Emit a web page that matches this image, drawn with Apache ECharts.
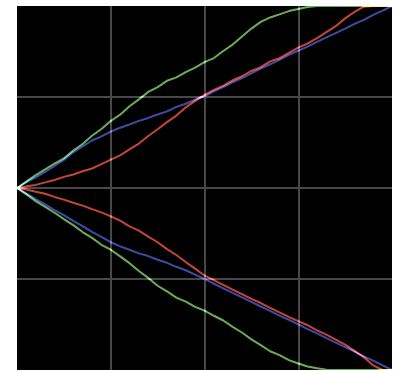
<!DOCTYPE html>
<html>
<head>
<meta charset="utf-8">
<script src="https://cdn.jsdelivr.net/npm/echarts@6/dist/echarts.min.js"></script>
<style>
  html, body { margin: 0; padding: 0; background: #ffffff; }
  #chart { width: 398px; height: 371px; }
</style>
</head>
<body>
<div id="chart"></div>
<script>
// Horizontal positions shared by every curve
const xs = [0, 2.5, 5, 7.5, 10, 12.5, 15, 17.5, 20, 22.5, 25, 27.5, 30, 32.5, 35, 37.5, 40,
  42.5, 45, 47.5, 50, 52.5, 55, 57.5, 60, 62.5, 65, 67.5, 70, 72.5, 75, 77.5, 80, 82.5, 85,
  87.5, 90, 92.5, 95, 97.5, 100];

// Upper branch of each curve
const greenUpper = [0, 3.6, 7.1, 10.2, 13.4, 16.3, 20.6, 24.2, 28.7, 32.4, 36.8, 40.3, 44.9,
  48.7, 52.8, 55.4, 58.9, 60.8, 63.7, 66.1, 69.2, 71.4, 75.3, 78.8, 83.2, 87.6, 91.3, 93.7,
  95.4, 97.2, 98.4, 99.5, 100, 100, 100, 100, 100, 100, 100, 100, 100];
const blueUpper = [0, 3.1, 5.9, 8.8, 12.1, 15.4, 19.6, 22.9, 26.1, 28.4, 31.0, 33.1, 34.9,
  36.9, 38.5, 40.4, 42.1, 44.6, 46.3, 48.6, 50.4, 53.1, 55.4, 58.1, 60.4, 63.0, 65.6, 68.0,
  70.4, 73.1, 75.4, 77.7, 80.3, 82.8, 85.1, 87.6, 90.2, 92.4, 95.1, 97.5, 100];
const redUpper = [0, 0.9, 1.7, 3.1, 4.4, 6.1, 7.4, 9.2, 10.7, 13.1, 15.6, 17.9, 21.2, 24.4,
  28.6, 32.3, 36.2, 39.8, 44.3, 47.9, 51.2, 53.9, 56.3, 59.2, 61.4, 64.3, 66.4, 69.6, 71.3,
  74.2, 77.1, 79.4, 82.3, 85.6, 88.9, 93.2, 96.8, 99.6, 100, 100, 100];

// Lower branch of each curve
const greenLower = [0, -3.5, -7.2, -10.4, -13.6, -17.1, -20.4, -24.2, -27.4, -31.2, -33.9,
  -37.6, -41.3, -45.6, -49.4, -53.7, -56.8, -60.2, -62.4, -65.3, -67.4, -70.2, -72.8, -76.3,
  -79.4, -83.2, -86.3, -89.7, -91.8, -94.6, -96.4, -98.1, -99.0, -99.8, -100, -100, -100,
  -100, -100, -100, -100];
const blueLower = [0, -3.0, -6.1, -9.0, -12.1, -14.9, -18.1, -21.0, -24.1, -26.9, -29.8,
  -32.1, -33.9, -35.9, -37.4, -39.4, -41.1, -43.3, -45.2, -47.6, -49.9, -52.6, -55.1, -57.6,
  -60.1, -62.6, -65.1, -67.5, -70.1, -72.4, -74.9, -77.5, -79.9, -82.5, -85.0, -87.4, -89.9,
  -92.5, -94.9, -97.5, -100];
const redLower = [0, -0.8, -2.1, -3.2, -4.9, -6.4, -8.1, -9.7, -11.6, -13.4, -15.6, -17.9,
  -21.1, -23.4, -26.7, -29.8, -33.6, -36.8, -40.7, -44.3, -48.1, -50.6, -53.2, -55.8, -58.3,
  -60.9, -63.2, -65.9, -68.3, -70.8, -73.1, -75.4, -78.2, -80.6, -83.3, -86.1, -89.5, -93.0,
  -97.5, -100, -100];

const GREEN = '#6aad56';
const BLUE = '#3e4ba2';
const RED = '#c44536';

function pairs(ys) {
  return xs.map((x, i) => [x, ys[i]]);
}

function curve(name, ys, color) {
  return {
    name: name,
    type: 'line',
    data: pairs(ys),
    showSymbol: false,
    symbol: 'none',
    smooth: false,
    clip: false,
    blendMode: 'lighter',
    lineStyle: { color: color, width: 2 },
    emphasis: { disabled: true }
  };
}

const chart = echarts.init(document.getElementById('chart'), null, { renderer: 'canvas' });

const axisCommon = {
  type: 'value',
  axisLine: { show: false },
  axisTick: { show: false },
  axisLabel: { show: false },
  splitLine: {
    show: true,
    showMinLine: false,
    showMaxLine: false,
    lineStyle: { color: '#484848', width: 2 }
  }
};

chart.setOption({
  animation: false,
  backgroundColor: '#ffffff',
  grid: {
    left: 17, right: 6, top: 6, bottom: 1,
    show: true,
    backgroundColor: '#000000',
    borderWidth: 0
  },
  xAxis: Object.assign({}, axisCommon, { min: 0, max: 100, interval: 25 }),
  yAxis: Object.assign({}, axisCommon, { min: -100, max: 100, interval: 50 }),
  series: [
    curve('green-up', greenUpper, GREEN),
    curve('green-down', greenLower, GREEN),
    curve('blue-up', blueUpper, BLUE),
    curve('blue-down', blueLower, BLUE),
    curve('red-up', redUpper, RED),
    curve('red-down', redLower, RED)
  ]
});
</script>
</body>
</html>
